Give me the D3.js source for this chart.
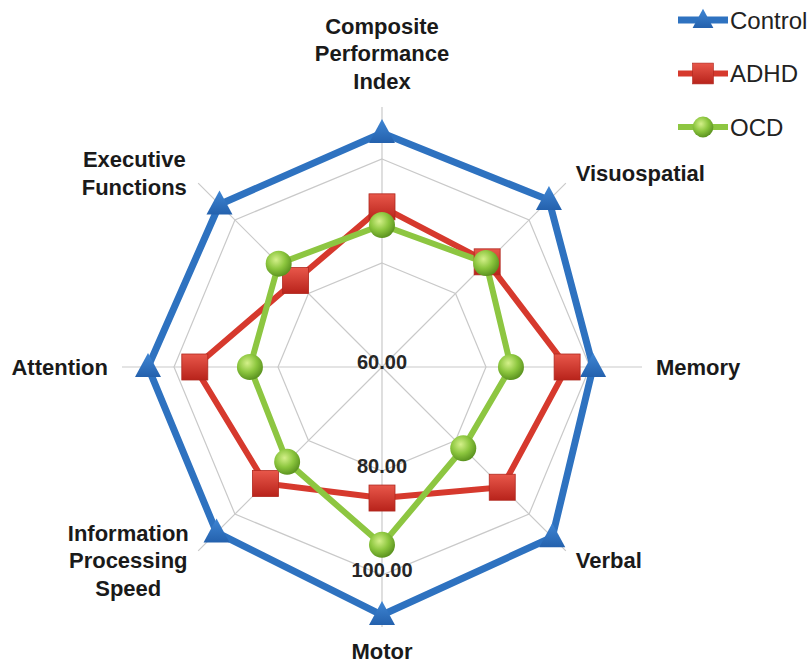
<!DOCTYPE html>
<html>
<head>
<meta charset="utf-8">
<script src="https://cdnjs.cloudflare.com/ajax/libs/d3/7.8.5/d3.min.js"></script>
<style>
  body { margin: 0; background: #fff; }
  svg { display: block; font-family: Arial, "Liberation Sans", sans-serif; }
</style>
</head>
<body>
<svg></svg>
<script>
const size = {w: 811, h: 665};
const center = {x: 382, y: 367};

// categories, clockwise from the top
const categories = ['Composite Performance Index', 'Visuospatial', 'Memory', 'Verbal',
    'Motor', 'Information Processing Speed', 'Attention', 'Executive Functions'];
const labelLines = [['Composite', 'Performance', 'Index'], ['Visuospatial'], ['Memory'], ['Verbal'],
    ['Motor'], ['Information', 'Processing', 'Speed'], ['Attention'], ['Executive', 'Functions']];

const seriesNames = ['Control', 'ADHD', 'OCD'];
const control = [105.0, 105.4, 100.6, 106.3, 107.7, 105.0, 105.0, 104.2];
const adhd    = [90.8, 88.6, 95.6, 92.7, 85.2, 91.7, 96.0, 83.5];
const ocd     = [87.3, 88.3, 84.8, 82.1, 94.2, 85.8, 85.4, 88.1];

const tickValues = [60, 80, 100];
const domain = [60, 110];

const svg = d3.select('svg')
    .attr('width', size.w)
    .attr('height', size.h);

const defs = svg.append('defs');
// shiny marker fills
let rg = defs.append('radialGradient').attr('id', 'gBall').attr('cx', '40%').attr('cy', '35%').attr('r', '65%');
rg.append('stop').attr('offset', '0%').attr('stop-color', '#d4f08a');
rg.append('stop').attr('offset', '55%').attr('stop-color', '#8cc63e');
rg.append('stop').attr('offset', '100%').attr('stop-color', '#5c9420');
let sq = defs.append('linearGradient').attr('id', 'gSq').attr('x1', 0).attr('y1', 0).attr('x2', 0).attr('y2', 1);
sq.append('stop').attr('offset', '0%').attr('stop-color', '#e8574a');
sq.append('stop').attr('offset', '100%').attr('stop-color', '#b8231b');
let tr = defs.append('linearGradient').attr('id', 'gTri').attr('x1', 0).attr('y1', 0).attr('x2', 0).attr('y2', 1);
tr.append('stop').attr('offset', '0%').attr('stop-color', '#3f86d4');
tr.append('stop').attr('offset', '100%').attr('stop-color', '#2461ad');

const rScale = d3.scaleLinear().domain(domain).range([0, 260]);
const angle = d3.scaleLinear().domain([0, categories.length]).range([0, 2 * Math.PI]);

function pt(i, v) {
    let a = angle(i), r = rScale(v);
    return [r * Math.sin(a), -r * Math.cos(a)];
}

const g = svg.append('g').attr('transform', 'translate(' + center.x + ',' + center.y + ')');

// grid rings (octagons)
const ringLine = d3.lineRadial().curve(d3.curveLinearClosed);
g.selectAll('path.ring')
    .data(tickValues.slice(1))
    .enter().append('path')
    .attr('class', 'ring')
    .attr('d', v => ringLine(categories.map((c, i) => [angle(i), rScale(v)])))
    .attr('fill', 'none')
    .attr('stroke', '#c9c9c9')
    .attr('stroke-width', 1.2);

// spokes
g.selectAll('line.spoke')
    .data(categories)
    .enter().append('line')
    .attr('x1', 0).attr('y1', 0)
    .attr('x2', (d, i) => pt(i, domain[1])[0])
    .attr('y2', (d, i) => pt(i, domain[1])[1])
    .attr('stroke', '#c9c9c9')
    .attr('stroke-width', 1.2);

// tick labels down the Motor spoke
g.selectAll('text.tick')
    .data(tickValues)
    .enter().append('text')
    .attr('x', 0)
    .attr('y', d => rScale(d) + 2)
    .attr('text-anchor', 'middle')
    .style('font-size', '20px')
    .style('font-weight', 'bold')
    .style('fill', '#262626')
    .text(d => d.toFixed(2));

const series = [
    {name: 'Control', values: control, color: '#2e72c0', width: 7, marker: 'tri'},
    {name: 'ADHD', values: adhd, color: '#d6392d', width: 6, marker: 'sq'},
    {name: 'OCD', values: ocd, color: '#8dc641', width: 6, marker: 'ball'}
];

const radial = d3.lineRadial().curve(d3.curveLinearClosed);

function drawMarker(sel, type) {
    if (type === 'tri') {
        sel.append('path')
            .attr('d', 'M0,-14 L13,10 L-13,10 Z')
            .attr('fill', 'url(#gTri)');
    } else if (type === 'sq') {
        sel.append('rect')
            .attr('x', -13).attr('y', -13).attr('width', 26).attr('height', 26)
            .attr('fill', 'url(#gSq)')
            .attr('stroke', '#b0281f').attr('stroke-width', 0.8);
    } else {
        sel.append('circle')
            .attr('r', 13)
            .attr('fill', 'url(#gBall)');
    }
}

series.forEach(function (s) {
    g.append('path')
        .attr('d', radial(s.values.map((v, i) => [angle(i), rScale(v)])))
        .attr('fill', 'none')
        .attr('stroke', s.color)
        .attr('stroke-width', s.width)
        .attr('stroke-linejoin', 'miter');
});
series.forEach(function (s) {
    g.selectAll(null)
        .data(s.values)
        .enter().append('g')
        .attr('transform', (v, i) => 'translate(' + pt(i, v) + ')')
        .call(drawMarker, s.marker);
});

// category labels
const labelR = 274;
const lineH = 27.5;
labelLines.forEach(function (lines, i) {
    let a = angle(i);
    let x = labelR * Math.sin(a), y = -labelR * Math.cos(a);
    let anchor = 'middle', yTop;
    let n = lines.length;
    if (i === 0) { yTop = y - 12 - (n - 1) * lineH; }
    else if (i === 4) { yTop = y + 10; }
    else { yTop = y - (n - 1) * lineH / 2; }
    if (i === 1 || i === 2 || i === 3) anchor = 'start';
    if (i === 6) anchor = 'end';
    if (i === 5) { x = x - 60; }
    if (i === 7) { x = x - 54; }
    let t = g.append('text')
        .attr('text-anchor', anchor)
        .style('font-size', '22px')
        .style('font-weight', 'bold')
        .style('fill', '#1a1a1a');
    lines.forEach(function (l, k) {
        t.append('tspan')
            .attr('x', x)
            .attr('y', yTop + k * lineH + 7.5)
            .text(l);
    });
});

// legend
const legend = svg.append('g').attr('transform', 'translate(678,20)');
series.forEach(function (s, i) {
    let row = legend.append('g').attr('transform', 'translate(0,' + (i * 53.5) + ')');
    row.append('line')
        .attr('x1', 0).attr('x2', 50)
        .attr('stroke', s.color).attr('stroke-width', s.width);
    row.append('g').attr('transform', 'translate(25,0) scale(0.8)').call(drawMarker, s.marker);
    row.append('text')
        .attr('x', 52).attr('y', 8.5)
        .style('font-size', '24px')
        .style('fill', '#222')
        .text(s.name);
});
</script>
</body>
</html>
